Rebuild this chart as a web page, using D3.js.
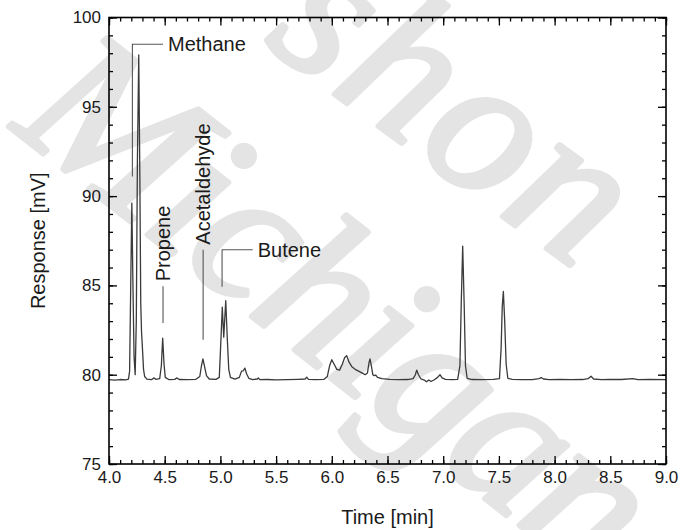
<!DOCTYPE html>
<html>
<head>
<meta charset="utf-8">
<script src="https://cdn.jsdelivr.net/npm/d3@7"></script>
<style>
  html, body { margin: 0; padding: 0; background: #fff; }
  svg { display: block; }
</style>
</head>
<body>
<svg id="chart" width="683" height="530"></svg>
<script>
// Chromatogram trace: retention time [min] and detector response [mV]
const traceTime = [
  4.00, 4.05, 4.10, 4.15, 4.175, 4.185, 4.195, 4.205, 4.215, 4.225, 4.235, 4.245, 4.255, 4.267, 4.277, 4.285,
  4.292, 4.300, 4.310, 4.320, 4.340, 4.380, 4.405, 4.420, 4.455, 4.470, 4.482, 4.494, 4.505, 4.540, 4.590, 4.610,
  4.630, 4.700, 4.780, 4.815, 4.830, 4.843, 4.858, 4.875, 4.900, 4.960, 4.990, 5.005, 5.017, 5.030, 5.048, 5.062,
  5.075, 5.090, 5.130, 5.170, 5.190, 5.205, 5.220, 5.235, 5.255, 5.290, 5.330, 5.340, 5.355, 5.420, 5.500, 5.600,
  5.700, 5.760, 5.775, 5.790, 5.850, 5.930, 5.960, 5.980, 6.000, 6.020, 6.045, 6.070, 6.095, 6.115, 6.133, 6.155,
  6.180, 6.210, 6.240, 6.270, 6.300, 6.320, 6.335, 6.343, 6.355, 6.368, 6.380, 6.395, 6.410, 6.450, 6.520, 6.600,
  6.680, 6.730, 6.750, 6.762, 6.778, 6.800, 6.830, 6.850, 6.870, 6.890, 6.920, 6.950, 6.971, 6.990, 7.020, 7.080,
  7.130, 7.150, 7.162, 7.175, 7.188, 7.200, 7.215, 7.260, 7.350, 7.450, 7.505, 7.520, 7.530, 7.540, 7.552, 7.565,
  7.580, 7.620, 7.700, 7.800, 7.860, 7.880, 7.900, 7.950, 8.050, 8.150, 8.250, 8.300, 8.327, 8.350, 8.420, 8.500,
  8.600, 8.700, 8.750, 8.850, 9.000
];
const traceResponse = [
  79.72, 79.70, 79.73, 79.71, 79.75, 80.20, 85.00, 89.60, 85.00, 81.00, 80.00, 83.00, 92.00, 97.90, 91.00, 84.00,
  82.40, 81.50, 80.30, 79.90, 79.75, 79.72, 79.82, 79.74, 79.78, 80.50, 82.05, 80.60, 79.85, 79.72, 79.74, 79.82,
  79.73, 79.72, 79.74, 79.90, 80.50, 80.88, 80.45, 79.95, 79.76, 79.74, 79.85, 82.00, 83.78, 82.10, 84.14, 82.00,
  80.30, 79.85, 79.75, 79.85, 80.20, 80.22, 80.37, 80.05, 79.80, 79.72, 79.76, 79.82, 79.72, 79.73, 79.71, 79.72,
  79.74, 79.76, 79.86, 79.74, 79.72, 79.74, 79.90, 80.50, 80.84, 80.60, 80.30, 80.25, 80.60, 80.95, 81.07, 80.70,
  80.45, 80.30, 80.20, 80.10, 80.00, 80.10, 80.70, 80.88, 80.50, 80.00, 79.95, 79.98, 79.85, 79.78, 79.74, 79.72,
  79.73, 79.78, 80.00, 80.26, 80.00, 79.76, 79.70, 79.60, 79.70, 79.62, 79.72, 79.85, 80.00, 79.82, 79.74, 79.72,
  79.74, 80.50, 84.00, 87.20, 84.00, 80.50, 79.80, 79.73, 79.72, 79.74, 79.78, 81.50, 83.80, 84.66, 83.00, 80.60,
  79.80, 79.74, 79.72, 79.72, 79.78, 79.84, 79.76, 79.72, 79.73, 79.72, 79.73, 79.78, 79.92, 79.76, 79.72, 79.74,
  79.73, 79.78, 79.72, 79.73, 79.72
];

// Axis ticks
const xMajorTicks = [4.0, 4.5, 5.0, 5.5, 6.0, 6.5, 7.0, 7.5, 8.0, 8.5, 9.0];
const xMinorTicks = d3.range(40, 91).map(d => d / 10);
const yMajorTicks = [75, 80, 85, 90, 95, 100];
const yMinorTicks = d3.range(75, 101);

// Peak labels: leader line as [time, mV] vertices, label anchored at the last vertex
const peakNames = ["Methane", "Propene", "Acetaldehyde", "Butene"];
const peakLeaders = [
  [[4.21, 91.1], [4.21, 98.5], [4.485, 98.5]],
  [[4.485, 82.9], [4.485, 84.95]],
  [[4.845, 81.95], [4.845, 87.0]],
  [[5.015, 84.92], [5.015, 87.0], [5.29, 87.0]]
];
const peakVertical = [false, true, true, false];

const xTitle = "Time [min]";
const yTitle = "Response [mV]";

const SANS = "'Liberation Sans', Arial, sans-serif";
const SERIF = "'Liberation Serif', 'DejaVu Serif', serif";

const svg = d3.select("#chart");
const W = 683, H = 530;
const margin = { left: 109, right: W - 666, top: 17.5, bottom: H - 464 };
const x = d3.scaleLinear().domain([4, 9]).range([margin.left, W - margin.right]);
const y = d3.scaleLinear().domain([75, 100]).range([H - margin.bottom, margin.top]);

// Background lettering
const wm = svg.append("g");
[["Michigan", "translate(10,128) rotate(38)", -4], ["shon", "translate(262,42) rotate(36)", 4]]
  .forEach(([word, tf, ls]) => {
    wm.append("text").attr("transform", tf)
      .attr("font-family", SERIF).attr("font-style", "italic")
      .attr("font-size", 200).attr("letter-spacing", ls)
      .attr("fill", "#e4e4e4").attr("stroke", "#e4e4e4").attr("stroke-width", 5)
      .attr("stroke-linejoin", "round").text(word);
  });

const plot = svg.append("g");

// Trace
const pts = traceTime.map((t, i) => [t, traceResponse[i]]);
plot.append("path")
  .datum(pts)
  .attr("fill", "none")
  .attr("stroke", "#3a3a3a")
  .attr("stroke-width", 1.3)
  .attr("stroke-linejoin", "round")
  .attr("d", d3.line().x(d => x(d[0])).y(d => y(d[1])));

// Peak leaders and names
const leader = d3.line().x(d => x(d[0])).y(d => y(d[1]));
peakNames.forEach((name, i) => {
  const p = peakLeaders[i];
  plot.append("path").attr("d", leader(p))
    .attr("fill", "none").attr("stroke", "#555").attr("stroke-width", 1.1);
  const end = p[p.length - 1];
  const ex = x(end[0]), ey = y(end[1]);
  const t = plot.append("text").attr("font-family", SANS)
    .attr("font-size", 20).attr("fill", "#1a1a1a").text(name);
  if (peakVertical[i]) {
    t.attr("transform", `translate(${ex + 7},${ey - 5}) rotate(-90)`);
  } else {
    t.attr("x", ex + 5).attr("y", ey).attr("dy", "0.35em");
  }
});

// Frame and ticks (inward, mirrored on all sides)
const axes = svg.append("g");
const tickStyle = g => {
  g.select(".domain").remove();
  g.selectAll(".tick line").attr("stroke", "#000").attr("stroke-width", 1.3);
};
const xb = d3.axisBottom(x).tickValues(xMinorTicks).tickSize(-4).tickFormat("");
const xbM = d3.axisBottom(x).tickValues(xMajorTicks).tickSize(-8).tickFormat(d3.format(".1f")).tickPadding(7);
const xt = d3.axisTop(x).tickValues(xMinorTicks).tickSize(-4).tickFormat("");
const xtM = d3.axisTop(x).tickValues(xMajorTicks).tickSize(-8).tickFormat("");
const yl = d3.axisLeft(y).tickValues(yMinorTicks).tickSize(-4).tickFormat("");
const ylM = d3.axisLeft(y).tickValues(yMajorTicks).tickSize(-8).tickFormat(d3.format("d")).tickPadding(8);
const yr = d3.axisRight(y).tickValues(yMinorTicks).tickSize(-4).tickFormat("");
const yrM = d3.axisRight(y).tickValues(yMajorTicks).tickSize(-8).tickFormat("");

const bottomY = H - margin.bottom, rightX = W - margin.right;
[xb, xbM].forEach(a => axes.append("g").attr("transform", `translate(0,${bottomY})`).call(a).call(tickStyle));
[xt, xtM].forEach(a => axes.append("g").attr("transform", `translate(0,${margin.top})`).call(a).call(tickStyle));
[yl, ylM].forEach(a => axes.append("g").attr("transform", `translate(${margin.left},0)`).call(a).call(tickStyle));
[yr, yrM].forEach(a => axes.append("g").attr("transform", `translate(${rightX},0)`).call(a).call(tickStyle));

axes.selectAll(".tick text")
  .attr("font-family", SANS)
  .attr("font-size", 17).attr("fill", "#1a1a1a");

axes.append("rect")
  .attr("x", margin.left).attr("y", margin.top)
  .attr("width", rightX - margin.left).attr("height", bottomY - margin.top)
  .attr("fill", "none").attr("stroke", "#000").attr("stroke-width", 1.6);

// Axis titles
svg.append("text")
  .attr("x", (margin.left + rightX) / 2).attr("y", 524)
  .attr("text-anchor", "middle").attr("font-family", SANS)
  .attr("font-size", 20).attr("fill", "#1a1a1a")
  .text(xTitle);
svg.append("text")
  .attr("transform", `translate(45,${(margin.top + bottomY) / 2}) rotate(-90)`)
  .attr("text-anchor", "middle").attr("font-family", SANS)
  .attr("font-size", 20).attr("fill", "#1a1a1a")
  .text(yTitle);
</script>
</body>
</html>
